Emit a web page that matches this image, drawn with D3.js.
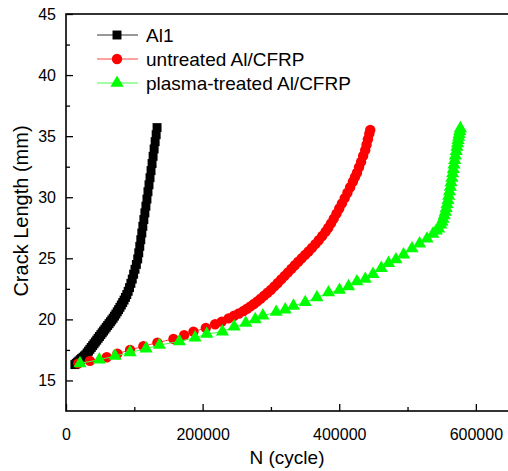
<!DOCTYPE html>
<html>
<head>
<meta charset="utf-8">
<script src="https://cdn.jsdelivr.net/npm/d3@7"></script>
<style>
  body { margin: 0; background: #fff; }
  text { font-family: "Liberation Sans", Arial, sans-serif; fill: #000; }
</style>
</head>
<body>
<div id="chart"></div>
<script>
// values
const al1N = [13000, 15000, 17000, 19000, 21000, 23000, 25000, 27000, 29000, 31000,
    33000, 35000, 37000, 39000, 41000, 43000, 45000, 47000, 49000, 51000,
    53000, 55000, 57000, 59000, 61000, 63000, 65000, 67000, 69000, 71000,
    73000, 75000, 77000, 79000, 81000, 83000, 85000, 87000, 89000, 91000,
    93000, 95000, 97000, 99000, 101000, 103000, 105000, 106500, 108000, 109500,
    111000, 112500, 114000, 115500, 117000, 118500, 120000, 121500, 123000, 124500,
    126000, 127500, 129000, 130500, 132000, 133300];
const al1Len = [16.3, 16.4, 16.5, 16.6, 16.7, 16.8, 16.9, 17.0, 17.1, 17.25,
    17.4, 17.55, 17.7, 17.85, 18.0, 18.15, 18.3, 18.45, 18.6, 18.75,
    18.9, 19.05, 19.2, 19.35, 19.5, 19.65, 19.8, 19.95, 20.1, 20.27,
    20.44, 20.62, 20.8, 20.99, 21.18, 21.38, 21.58, 21.8, 22.03, 22.3,
    22.6, 22.95, 23.3, 23.7, 24.1, 24.5, 24.95, 25.45, 25.98, 26.52,
    27.07, 27.62, 28.17, 28.72, 29.27, 29.85, 30.45, 31.02, 31.6, 32.18,
    32.76, 33.35, 33.95, 34.55, 35.12, 35.7];

const untreatedN = [18000, 35000, 59600, 75200, 93800, 113300, 133800, 157300, 172900, 186600,
    204700, 218300, 228000, 238000, 246000, 253000, 259800, 265000, 270000, 275000,
    280000, 285000, 290000, 295000, 300000, 305000, 310000, 315000, 320000, 325000,
    330000, 335000, 340000, 345000, 350000, 355000, 360000, 365000, 370000, 375000,
    380000, 384000, 388000, 392000, 396000, 400000, 404000, 408000, 412000, 416000,
    420000, 423000, 426000, 429000, 432000, 435000, 438000, 440000, 442000, 444000,
    445400];
const untreatedLen = [16.4, 16.6, 16.9, 17.2, 17.5, 17.8, 18.1, 18.4, 18.7, 19.0,
    19.3, 19.6, 19.82, 20.08, 20.3, 20.48, 20.69, 20.87, 21.06, 21.26,
    21.47, 21.7, 21.94, 22.18, 22.42, 22.7, 22.98, 23.27, 23.56, 23.85,
    24.14, 24.43, 24.72, 25.0, 25.28, 25.56, 25.85, 26.16, 26.48, 26.82,
    27.18, 27.5, 27.86, 28.25, 28.66, 29.08, 29.5, 29.93, 30.37, 30.82,
    31.28, 31.65, 32.0, 32.45, 32.9, 33.38, 33.85, 34.3, 34.75, 35.2,
    35.5];

const plasmaN = [20500, 48800, 71800, 93800, 117200, 136700, 166000, 189000, 206100, 229000,
    246200, 263200, 277000, 288200, 307700, 320900, 333000, 350200, 367300, 384300,
    400400, 413600, 425900, 438100, 449400, 461500, 472200, 483000, 494200, 506500,
    517600, 528500, 537200, 542000, 545500, 548700, 550400, 552000, 553700, 555300,
    556600, 557900, 559200, 560300, 561500, 562600, 563700, 564900, 566000, 567000,
    568000, 569000, 570100, 571300, 572400, 573200, 574000, 574800, 575600, 576500,
    577300];
const plasmaLen = [16.4, 16.7, 17.0, 17.3, 17.6, 17.9, 18.2, 18.5, 18.8, 19.0,
    19.4, 19.7, 20.0, 20.3, 20.6, 20.8, 21.1, 21.4, 21.8, 22.2,
    22.4, 22.7, 23.1, 23.3, 23.7, 24.2, 24.6, 24.9, 25.3, 25.8,
    26.2, 26.6, 27.0, 27.25, 27.43, 27.75, 27.98, 28.22, 28.5, 28.8,
    29.1, 29.42, 29.75, 30.1, 30.47, 30.84, 31.2, 31.57, 31.94, 32.3,
    32.67, 33.03, 33.4, 33.76, 34.12, 34.4, 34.67, 34.94, 35.17, 35.4,
    35.63];

const seriesNames = ["Al1", "untreated Al/CFRP", "plasma-treated Al/CFRP"];
const xTicks = [0, 200000, 400000, 600000];
const xMinor = [100000, 300000, 500000];
const yTicks = [15, 20, 25, 30, 35, 40, 45];
const yMinor = [17.5, 22.5, 27.5, 32.5, 37.5, 42.5];

const series = [
    {name: seriesNames[0], n: al1N, len: al1Len, color: "#000000", line: "#333333", shape: d3.symbolSquare, size: 80},
    {name: seriesNames[1], n: untreatedN, len: untreatedLen, color: "#ff0000", line: "#ff4444", shape: d3.symbolCircle, size: 85},
    {name: seriesNames[2], n: plasmaN, len: plasmaLen, color: "#00ff00", line: "#44ff44", shape: d3.symbolTriangle, size: 75}
];

const width = 508, height = 471;
const margin = {top: 14, right: -2, bottom: 60, left: 66};

const svg = d3.select("#chart").append("svg")
    .attr("width", width)
    .attr("height", height);

const x = d3.scaleLinear()
    .domain([0, 650000])
    .range([margin.left, width - margin.right]);

const y = d3.scaleLinear()
    .domain([12.5, 45])
    .range([height - margin.bottom, margin.top]);

// frame
svg.append("rect")
    .attr("x", margin.left)
    .attr("y", margin.top)
    .attr("width", x.range()[1] - margin.left)
    .attr("height", y.range()[0] - margin.top)
    .attr("fill", "none")
    .attr("stroke", "#000")
    .attr("stroke-width", 1.6);

// axes, ticks pointing inward
svg.append("g")
    .attr("transform", "translate(0," + y.range()[0] + ")")
    .call(d3.axisBottom(x).tickValues(xTicks).tickSize(-7).tickPadding(18).tickFormat(d3.format("d")));
svg.append("g")
    .attr("transform", "translate(0," + y.range()[0] + ")")
    .call(d3.axisBottom(x).tickValues(xMinor).tickSize(-4).tickFormat(""));

svg.append("g")
    .attr("transform", "translate(" + margin.left + ",0)")
    .call(d3.axisLeft(y).tickValues(yTicks).tickSize(-7).tickPadding(10));
svg.append("g")
    .attr("transform", "translate(" + margin.left + ",0)")
    .call(d3.axisLeft(y).tickValues(yMinor).tickSize(-4).tickFormat(""));

svg.selectAll(".domain").remove();
svg.selectAll(".tick line").attr("stroke", "#000").attr("stroke-width", 1.3);
svg.selectAll(".tick text").attr("font-size", 16).attr("font-family", "Liberation Sans, Arial, sans-serif");

// axis titles
svg.append("text")
    .attr("x", 287)
    .attr("y", 464)
    .attr("text-anchor", "middle")
    .attr("font-size", 19)
    .text("N (cycle)");

svg.append("text")
    .attr("transform", "translate(28,211) rotate(-90)")
    .attr("text-anchor", "middle")
    .attr("font-size", 20)
    .text("Crack Length (mm)");

// series
series.forEach(function (s) {
    const pts = s.n.map((v, i) => [v, s.len[i]]);
    svg.append("path")
        .datum(pts)
        .attr("fill", "none")
        .attr("stroke", s.line)
        .attr("stroke-width", 1)
        .attr("d", d3.line().x(d => x(d[0])).y(d => y(d[1])));
    svg.append("g")
        .selectAll("path")
        .data(pts)
        .join("path")
        .attr("transform", d => "translate(" + x(d[0]) + "," + y(d[1]) + ")")
        .attr("d", d3.symbol().type(s.shape).size(s.size))
        .attr("fill", s.color);
});

// legend
const legend = svg.append("g");
series.forEach(function (s, i) {
    const ly = 35 + i * 24;
    legend.append("line")
        .attr("x1", 97).attr("x2", 138)
        .attr("y1", ly).attr("y2", ly)
        .attr("stroke", s.line)
        .attr("stroke-width", 1);
    legend.append("path")
        .attr("transform", "translate(117," + ly + ")")
        .attr("d", d3.symbol().type(s.shape).size(s.size))
        .attr("fill", s.color);
    legend.append("text")
        .attr("x", 146)
        .attr("y", ly + 7)
        .attr("font-size", 19)
        .text(s.name);
});
</script>
</body>
</html>
